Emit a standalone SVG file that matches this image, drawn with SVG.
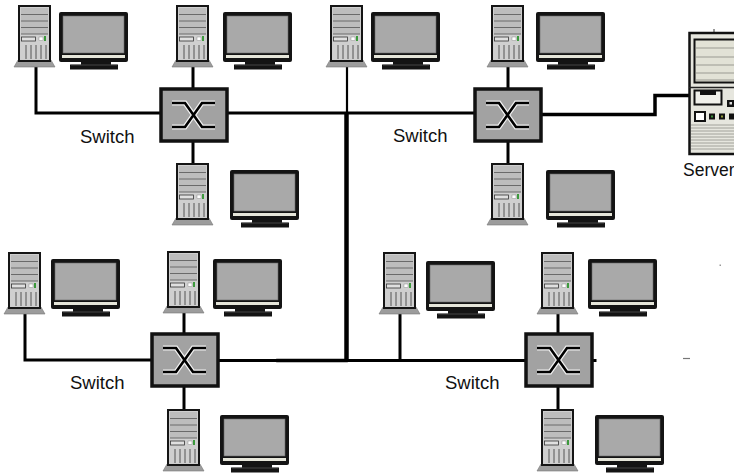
<svg xmlns="http://www.w3.org/2000/svg" xmlns:xlink="http://www.w3.org/1999/xlink" width="734" height="473" viewBox="0 0 734 473">
  <style>
    .cable { stroke: #000; stroke-width: 3; fill: none; stroke-linecap: square; }
    .trunk { stroke: #000; stroke-width: 4.5; fill: none; }
    .label { font-family: "Liberation Sans", Arial, sans-serif; font-size: 18.5px; fill: #111; }
    .swbox { fill: #a2a2a2; stroke: #111; stroke-width: 3.5; }
    .xhi { stroke: #f2f2f2; stroke-width: 5; fill: none; }
    .xln { stroke: #000; stroke-width: 2.6; fill: none; }
  </style>
  <defs>
    <!-- desktop tower, origin at top-left of the case frame -->
    <g id="tower">
      <polygon points="-4,62 0,55 33,55 37,62" fill="#9c9c9c" stroke="#777" stroke-width="0.6"/>
      <rect x="0" y="0" width="33" height="57" fill="#151515"/>
      <rect x="2" y="2" width="29" height="53" fill="#cfcfcf"/>
      <rect x="3" y="3" width="27" height="26" fill="#bdbdbd"/>
      <g stroke="#6a6a6a" stroke-width="1">
        <line x1="3" y1="9.5" x2="30" y2="9.5"/>
        <line x1="3" y1="16" x2="30" y2="16"/>
        <line x1="3" y1="22.5" x2="30" y2="22.5"/>
        <line x1="3" y1="29" x2="30" y2="29"/>
      </g>
      <rect x="3.5" y="32" width="14" height="4" fill="#e0e0e0" stroke="#333" stroke-width="0.8"/>
      <rect x="21" y="32" width="4" height="3.5" fill="#fff" stroke="#777" stroke-width="0.4"/>
      <rect x="26" y="31" width="2" height="5" fill="#3c9a3c"/>
      <g stroke="#555" stroke-width="1">
        <line x1="8" y1="40" x2="8" y2="54"/>
        <line x1="13" y1="40" x2="13" y2="54"/>
        <line x1="18" y1="40" x2="18" y2="54"/>
        <line x1="23" y1="40" x2="23" y2="54"/>
        <line x1="28" y1="40" x2="28" y2="54"/>
      </g>
    </g>
    <!-- flat screen monitor, origin at top-left of the bezel -->
    <g id="monitor">
      <rect x="0" y="0" width="69" height="50" rx="2" fill="#141414"/>
      <rect x="4" y="4" width="61" height="37" fill="#a9a9a9" stroke="#6a6a6a" stroke-width="0.6"/>
      <rect x="3" y="43" width="63" height="3" fill="#e6e6da"/>
      <rect x="22" y="50" width="30" height="3" fill="#141414"/>
      <rect x="11" y="52.5" width="48" height="5" fill="#141414"/>
      <line x1="12" y1="53" x2="58" y2="53" stroke="#666" stroke-width="0.6"/>
    </g>
    <!-- network switch, 66 x 52 -->
    <g id="switch">
      <rect class="swbox" x="0" y="0" width="66" height="52"/>
      <path class="xhi" d="M11,14 H24 L41,38 H54 M11,38 H24 L41,14 H54"/>
      <path class="xln" d="M11,14 H24 L41,38 H54 M11,38 H24 L41,14 H54"/>
    </g>
  </defs>

  <rect width="734" height="473" fill="#fff"/>

  <!-- cabling -->
  <g id="connectors">
    <!-- backbone -->
    <line class="trunk" x1="346.5" y1="113" x2="346.5" y2="361"/>
    <!-- upper segment -->
    <polyline class="cable" points="36,67 36,113 161,113"/>
    <line class="cable" x1="193" y1="67" x2="193" y2="89"/>
    <line class="cable" x1="193" y1="141" x2="193" y2="163"/>
    <line class="cable" x1="227" y1="113" x2="475" y2="113"/>
    <line class="cable" x1="347" y1="67" x2="347" y2="113" style="stroke-width:2.2"/>
    <line class="cable" x1="508" y1="67" x2="508" y2="88"/>
    <line class="cable" x1="508" y1="141" x2="508" y2="163"/>
    <polyline class="cable" points="541,114.5 655,114.5 655,95.5 689,95.5" style="stroke-width:3.5"/>
    <!-- lower segment -->
    <polyline class="cable" points="25,312 25,360 152,360"/>
    <line class="cable" x1="184" y1="312" x2="184" y2="333"/>
    <line class="cable" x1="184" y1="387" x2="184" y2="409"/>
    <line class="cable" x1="217" y1="360.5" x2="526" y2="360.5"/>
    <line class="cable" x1="278" y1="360.5" x2="346" y2="360.5" style="stroke-width:3.6"/>
    <line class="cable" x1="400" y1="312" x2="400" y2="360"/>
    <line class="cable" x1="558" y1="312" x2="558" y2="334"/>
    <line class="cable" x1="558" y1="387" x2="558" y2="409"/>
    <line class="cable" x1="592" y1="360.5" x2="595" y2="360.5"/>
  </g>

  <!-- switches -->
  <g id="switch-1"><use xlink:href="#switch" x="161" y="89"/><text class="label" x="80" y="143">Switch</text></g>
  <g id="switch-2"><use xlink:href="#switch" x="475" y="89"/><text class="label" x="393" y="142">Switch</text></g>
  <g id="switch-3"><use xlink:href="#switch" x="152" y="334"/><text class="label" x="70" y="389">Switch</text></g>
  <g id="switch-4"><use xlink:href="#switch" x="526" y="334"/><text class="label" x="445" y="389">Switch</text></g>

  <!-- workstations -->
  <g id="pc-1"><use xlink:href="#tower" x="18" y="5"/><use xlink:href="#monitor" x="59" y="12"/></g>
  <g id="pc-2"><use xlink:href="#tower" x="176" y="5"/><use xlink:href="#monitor" x="223" y="12"/></g>
  <g id="pc-3"><use xlink:href="#tower" x="330" y="5"/><use xlink:href="#monitor" x="371" y="12"/></g>
  <g id="pc-4"><use xlink:href="#tower" x="491" y="5"/><use xlink:href="#monitor" x="536" y="12"/></g>
  <g id="pc-5"><use xlink:href="#tower" x="176" y="163"/><use xlink:href="#monitor" x="230" y="170"/></g>
  <g id="pc-6"><use xlink:href="#tower" x="491" y="163"/><use xlink:href="#monitor" x="546" y="170"/></g>
  <g id="pc-7"><use xlink:href="#tower" x="8" y="252"/><use xlink:href="#monitor" x="51" y="259"/></g>
  <g id="pc-8"><use xlink:href="#tower" x="167" y="251"/><use xlink:href="#monitor" x="213" y="259"/></g>
  <g id="pc-9"><use xlink:href="#tower" x="383" y="252"/><use xlink:href="#monitor" x="426" y="261"/></g>
  <g id="pc-10"><use xlink:href="#tower" x="541" y="252"/><use xlink:href="#monitor" x="588" y="259"/></g>
  <g id="pc-11"><use xlink:href="#tower" x="167" y="409"/><use xlink:href="#monitor" x="220" y="415"/></g>
  <g id="pc-12"><use xlink:href="#tower" x="541" y="409"/><use xlink:href="#monitor" x="595" y="415"/></g>

  <!-- server -->
  <g id="server">
    <line x1="714" y1="29" x2="714" y2="33" stroke="#333" stroke-width="1"/>
    <rect x="689.5" y="33" width="60" height="121" fill="#e6e6de" stroke="#111" stroke-width="2.5"/>
    <rect x="694.5" y="39.5" width="45" height="43" fill="#e2e2d6" stroke="#111" stroke-width="2"/>
    <g stroke="#9a9a92" stroke-width="1">
      <line x1="696" y1="48" x2="738" y2="48"/>
      <line x1="696" y1="57" x2="738" y2="57"/>
      <line x1="696" y1="65" x2="738" y2="65"/>
      <line x1="696" y1="73" x2="738" y2="73"/>
      <line x1="696" y1="80" x2="738" y2="80"/>
    </g>
    <line x1="689" y1="87.5" x2="740" y2="87.5" stroke="#222" stroke-width="1.5"/>
    <rect x="694.5" y="90.5" width="27" height="14" fill="#f0f0ea" stroke="#111" stroke-width="2"/>
    <rect x="700" y="91" width="16" height="4" fill="#111"/>
    <rect x="727" y="100" width="9" height="7" fill="#111"/>
    <rect x="729.5" y="102" width="2.5" height="2.5" fill="#ddd"/>
    <rect x="695" y="112" width="10" height="9" fill="#fff" stroke="#111" stroke-width="2"/>
    <rect x="709" y="113.5" width="6" height="6" fill="#111"/>
    <rect x="711" y="115.5" width="2" height="2" fill="#3a8f3a"/>
    <rect x="719" y="113.5" width="6" height="6" fill="#111"/>
    <rect x="721" y="115.5" width="2" height="2" fill="#8f9a3a"/>
    <rect x="729" y="113.5" width="6" height="6" fill="#111"/>
    <g stroke="#9a9a92" stroke-width="0.9">
      <line x1="691" y1="125" x2="740" y2="125"/>
      <line x1="691" y1="128" x2="740" y2="128"/>
      <line x1="691" y1="131" x2="740" y2="131"/>
      <line x1="691" y1="134" x2="740" y2="134"/>
      <line x1="691" y1="137" x2="740" y2="137"/>
      <line x1="691" y1="140" x2="740" y2="140"/>
      <line x1="691" y1="143" x2="740" y2="143"/>
      <line x1="691" y1="146" x2="740" y2="146"/>
      <line x1="691" y1="149" x2="740" y2="149"/>
    </g>
    <text class="label" x="683" y="176" style="font-size:17.5px">Server</text>
  </g>

  <!-- stray marks -->
  <rect x="719.5" y="264.5" width="1.5" height="1.5" fill="#999"/>
  <line x1="683" y1="358.5" x2="690" y2="358.5" stroke="#777" stroke-width="1.2"/>
</svg>
